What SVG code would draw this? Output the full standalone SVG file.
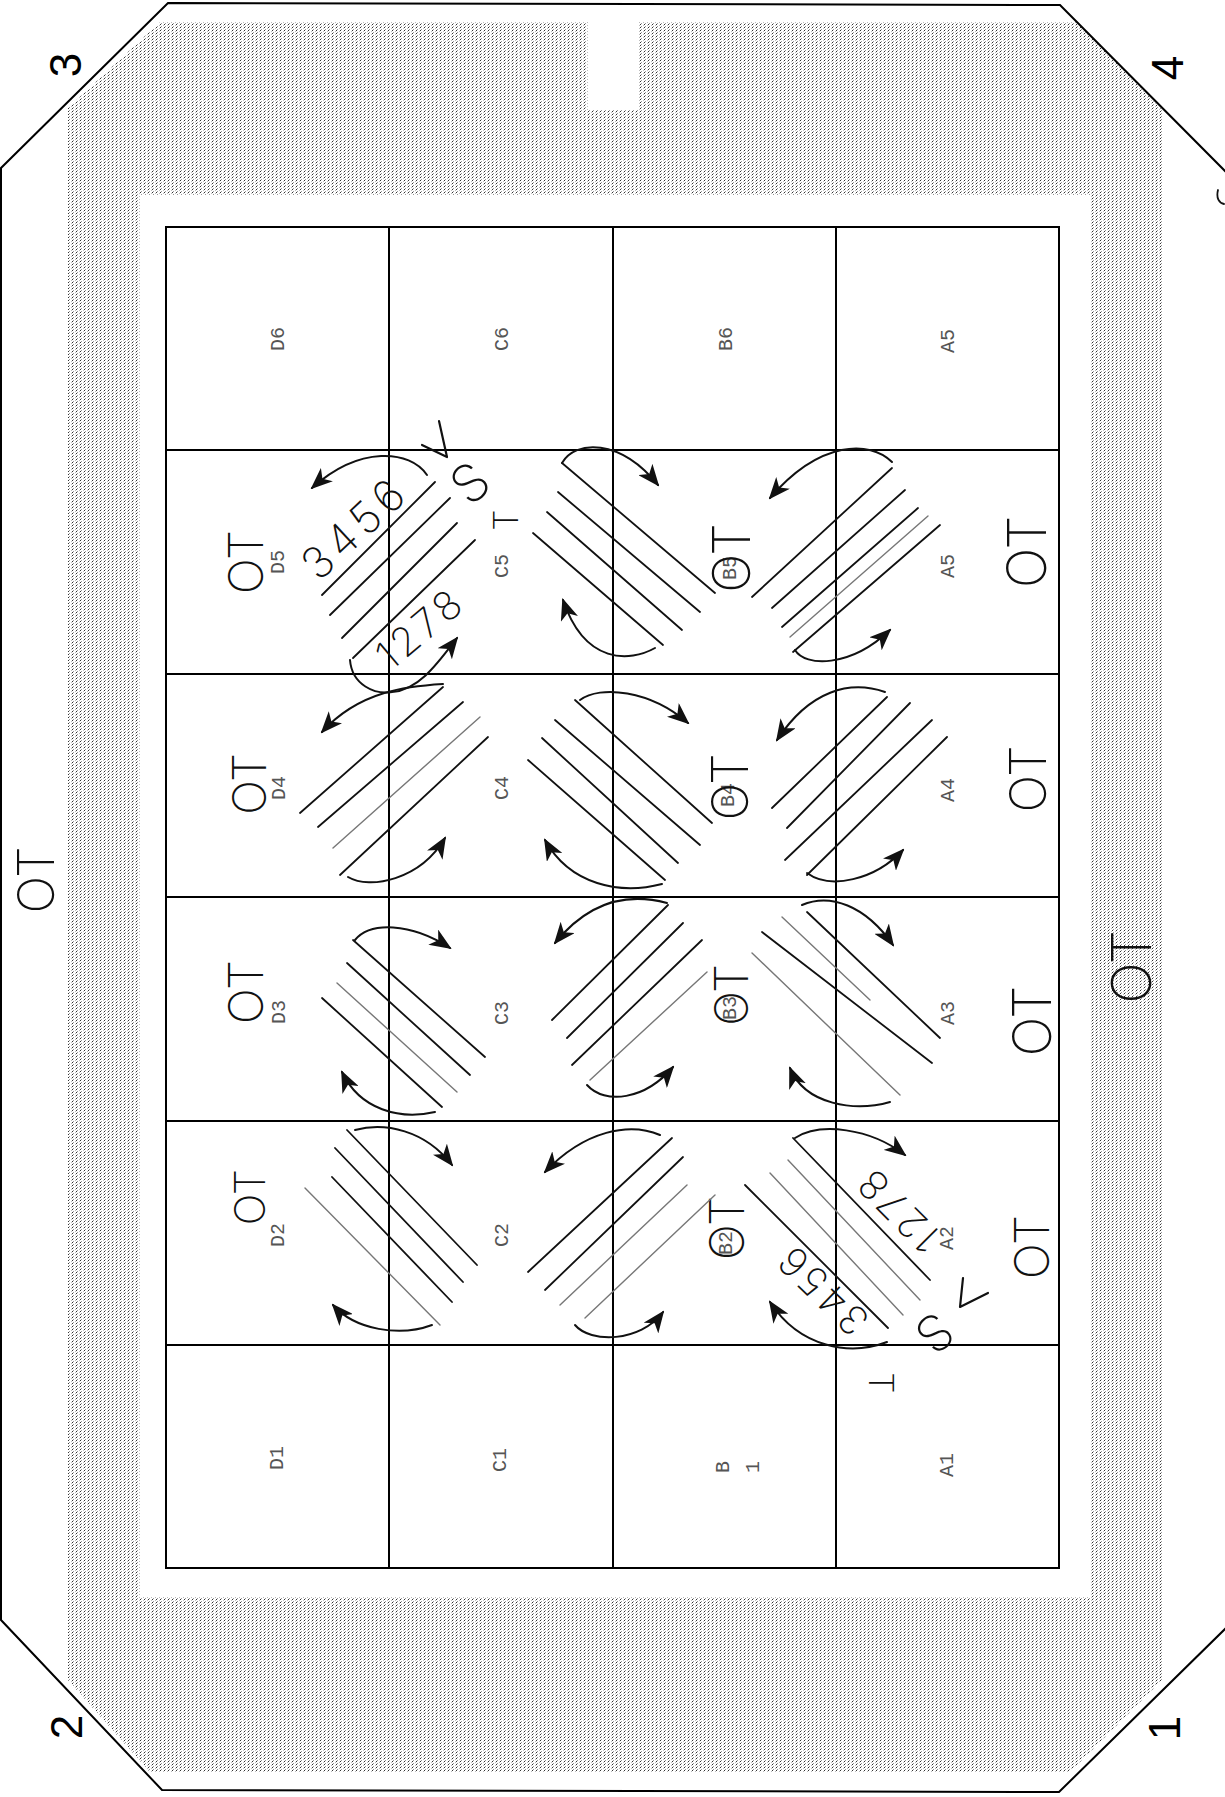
<svg xmlns="http://www.w3.org/2000/svg" width="1225" height="1797" viewBox="0 0 1225 1797">
<style>
.edge{fill:none;stroke:#000;stroke-width:2}
.cell{fill:none;stroke:#000;stroke-width:2}
.lbl{font-family:"Liberation Mono","DejaVu Sans Mono",monospace;font-size:20px;fill:#555}
.num{font-family:"Liberation Sans",Arial,sans-serif;font-size:44px;fill:#000}
.hand{font-family:Inter,Lato,"Open Sans",sans-serif;font-weight:200;fill:#111}
.h{fill:none;stroke:#111;stroke-width:1.8;stroke-linecap:round}
.hg{fill:none;stroke:#777;stroke-width:1.4;stroke-linecap:round}
.arr{fill:none;stroke:#111;stroke-width:2;stroke-linecap:round;marker-end:url(#ah)}
.mk{fill:none;stroke:#111;stroke-width:2.2;stroke-linecap:round;stroke-linejoin:round}
</style>
<defs>
<pattern id="dots" width="4" height="3" patternUnits="userSpaceOnUse">
<rect width="4" height="3" fill="#fff"/>
<rect x="0" y="0" width="1" height="1" fill="#333"/>
<rect x="1" y="2" width="1" height="1" fill="#999"/>
<rect x="3" y="1" width="1" height="1" fill="#bbb"/>
</pattern>
<marker id="ah" markerUnits="userSpaceOnUse" markerWidth="22" markerHeight="18" viewBox="0 0 22 18" refX="20" refY="9" orient="auto">
<path d="M0,0 L22,9 L0,18 L6,9 z" fill="#111"/>
</marker>
</defs>
<rect width="1225" height="1797" fill="#fff"/>

<g id="frame">
<path d="M160,22 L1077,22 L1162,110 L1162,1680 L1070,1772 L150,1772 L68,1680 L68,108 Z" fill="url(#dots)"/>
<rect x="140" y="195" width="950" height="1402" fill="#fff"/>
<rect x="588" y="20" width="50" height="90" fill="#fff"/>
<polygon class="edge" points="168,3 1060,5 1226,172 1226,1628 1059,1792 162,1790 1,1620 1,168"/>
<path d="M1218,190 C1216,198 1219,203 1224,204" class="h" stroke-width="1.2"/>
<text class="num" transform="translate(65,65) rotate(-90)" text-anchor="middle" dominant-baseline="central">3</text>
<text class="num" transform="translate(1167,68) rotate(-90)" text-anchor="middle" dominant-baseline="central">4</text>
<text class="num" transform="translate(66,1727) rotate(-90)" text-anchor="middle" dominant-baseline="central">2</text>
<text class="num" transform="translate(1164,1728) rotate(-90)" text-anchor="middle" dominant-baseline="central">1</text>
<text class="hand" font-size="50" transform="translate(36,880) rotate(-90)" text-anchor="middle" dominant-baseline="central">OT</text>
<text class="hand" font-size="55" transform="translate(1131,967) rotate(-90)" text-anchor="middle" dominant-baseline="central">OT</text>
</g>

<g id="grid">
<g id="cell-D6"><rect class="cell" x="166" y="227" width="223" height="223"/><text class="lbl" transform="translate(278,339) rotate(-90)" text-anchor="middle" dominant-baseline="central">D6</text></g>
<g id="cell-C6"><rect class="cell" x="389" y="227" width="224" height="223"/><text class="lbl" transform="translate(502,339) rotate(-90)" text-anchor="middle" dominant-baseline="central">C6</text></g>
<g id="cell-B6"><rect class="cell" x="613" y="227" width="223" height="223"/><text class="lbl" transform="translate(726,339) rotate(-90)" text-anchor="middle" dominant-baseline="central">B6</text></g>
<g id="cell-A6"><rect class="cell" x="836" y="227" width="223" height="223"/><text class="lbl" transform="translate(948,341) rotate(-90)" text-anchor="middle" dominant-baseline="central">A5</text></g>

<g id="cell-D5"><rect class="cell" x="166" y="450" width="223" height="224"/><text class="lbl" transform="translate(278,562) rotate(-90)" text-anchor="middle" dominant-baseline="central">D5</text></g>
<g id="cell-C5"><rect class="cell" x="389" y="450" width="224" height="224"/><text class="lbl" transform="translate(502,566) rotate(-90)" text-anchor="middle" dominant-baseline="central">C5</text></g>
<g id="cell-B5"><rect class="cell" x="613" y="450" width="223" height="224"/><text class="lbl" transform="translate(730,568) rotate(-90)" text-anchor="middle" dominant-baseline="central">B5</text></g>
<g id="cell-A5"><rect class="cell" x="836" y="450" width="223" height="224"/><text class="lbl" transform="translate(948,566) rotate(-90)" text-anchor="middle" dominant-baseline="central">A5</text></g>

<g id="cell-D4"><rect class="cell" x="166" y="674" width="223" height="223"/><text class="lbl" transform="translate(279,788) rotate(-90)" text-anchor="middle" dominant-baseline="central">D4</text></g>
<g id="cell-C4"><rect class="cell" x="389" y="674" width="224" height="223"/><text class="lbl" transform="translate(502,788) rotate(-90)" text-anchor="middle" dominant-baseline="central">C4</text></g>
<g id="cell-B4"><rect class="cell" x="613" y="674" width="223" height="223"/><text class="lbl" transform="translate(728,795) rotate(-90)" text-anchor="middle" dominant-baseline="central">B4</text></g>
<g id="cell-A4"><rect class="cell" x="836" y="674" width="223" height="223"/><text class="lbl" transform="translate(948,790) rotate(-90)" text-anchor="middle" dominant-baseline="central">A4</text></g>

<g id="cell-D3"><rect class="cell" x="166" y="897" width="223" height="224"/><text class="lbl" transform="translate(279,1012) rotate(-90)" text-anchor="middle" dominant-baseline="central">D3</text></g>
<g id="cell-C3"><rect class="cell" x="389" y="897" width="224" height="224"/><text class="lbl" transform="translate(502,1013) rotate(-90)" text-anchor="middle" dominant-baseline="central">C3</text></g>
<g id="cell-B3"><rect class="cell" x="613" y="897" width="223" height="224"/><text class="lbl" transform="translate(730,1008) rotate(-90)" text-anchor="middle" dominant-baseline="central">B3</text></g>
<g id="cell-A3"><rect class="cell" x="836" y="897" width="223" height="224"/><text class="lbl" transform="translate(948,1013) rotate(-90)" text-anchor="middle" dominant-baseline="central">A3</text></g>

<g id="cell-D2"><rect class="cell" x="166" y="1121" width="223" height="224"/><text class="lbl" transform="translate(278,1235) rotate(-90)" text-anchor="middle" dominant-baseline="central">D2</text></g>
<g id="cell-C2"><rect class="cell" x="389" y="1121" width="224" height="224"/><text class="lbl" transform="translate(502,1235) rotate(-90)" text-anchor="middle" dominant-baseline="central">C2</text></g>
<g id="cell-B2"><rect class="cell" x="613" y="1121" width="223" height="224"/><text class="lbl" transform="translate(726,1243) rotate(-90)" text-anchor="middle" dominant-baseline="central">B2</text></g>
<g id="cell-A2"><rect class="cell" x="836" y="1121" width="223" height="224"/><text class="lbl" transform="translate(947,1238) rotate(-90)" text-anchor="middle" dominant-baseline="central">A2</text></g>

<g id="cell-D1"><rect class="cell" x="166" y="1345" width="223" height="223"/><text class="lbl" transform="translate(277,1458) rotate(-90)" text-anchor="middle" dominant-baseline="central">D1</text></g>
<g id="cell-C1"><rect class="cell" x="389" y="1345" width="224" height="223"/><text class="lbl" transform="translate(500,1460) rotate(-90)" text-anchor="middle" dominant-baseline="central">C1</text></g>
<g id="cell-B1"><rect class="cell" x="613" y="1345" width="223" height="223"/><text class="lbl" transform="translate(723,1467) rotate(-90)" text-anchor="middle" dominant-baseline="central">B</text><text class="lbl" transform="translate(753,1467) rotate(-90)" text-anchor="middle" dominant-baseline="central">1</text></g>
<g id="cell-A1"><rect class="cell" x="836" y="1345" width="223" height="223"/><text class="lbl" transform="translate(947,1465) rotate(-90)" text-anchor="middle" dominant-baseline="central">A1</text></g>
</g>

<g id="ot-labels">
<text class="hand" font-size="48" transform="translate(245,562) rotate(-90)" text-anchor="middle" dominant-baseline="central">OT</text>
<text class="hand" font-size="46" transform="translate(249,784) rotate(-90)" text-anchor="middle" dominant-baseline="central">OT</text>
<text class="hand" font-size="48" transform="translate(245,992) rotate(-90)" text-anchor="middle" dominant-baseline="central">OT</text>
<text class="hand" font-size="42" transform="translate(249,1197) rotate(-90)" text-anchor="middle" dominant-baseline="central">OT</text>
<text class="hand" font-size="52" transform="translate(731,558) rotate(-90)" text-anchor="middle" dominant-baseline="central">OT</text>
<text class="hand" font-size="50" transform="translate(730,787) rotate(-90)" text-anchor="middle" dominant-baseline="central">OT</text>
<text class="hand" font-size="46" transform="translate(731,995) rotate(-90)" text-anchor="middle" dominant-baseline="central">OT</text>
<text class="hand" font-size="48" transform="translate(726,1228) rotate(-90)" text-anchor="middle" dominant-baseline="central">OT</text>
<text class="hand" font-size="54" transform="translate(1026,552) rotate(-90)" text-anchor="middle" dominant-baseline="central">OT</text>
<text class="hand" font-size="50" transform="translate(1028,779) rotate(-90)" text-anchor="middle" dominant-baseline="central">OT</text>
<text class="hand" font-size="53" transform="translate(1032,1021) rotate(-90)" text-anchor="middle" dominant-baseline="central">OT</text>
<text class="hand" font-size="48" transform="translate(1031,1247) rotate(-90)" text-anchor="middle" dominant-baseline="central">OT</text>
</g>

<g id="hatching">
<g id="hatch-D5-C5">
<line class="h" x1="435" y1="482" x2="322" y2="595"/><line class="h" x1="450" y1="498" x2="330" y2="615"/><line class="h" x1="457" y1="523" x2="342" y2="638"/><line class="h" x1="475" y1="540" x2="353" y2="658"/>
<text class="hand" font-size="44" letter-spacing="6" transform="translate(355,527) rotate(-43)" text-anchor="middle" dominant-baseline="central">3456</text>
<text class="hand" font-size="40" letter-spacing="4" transform="translate(420,628) rotate(-40)" text-anchor="middle" dominant-baseline="central">1278</text>
<path class="mk" d="M422,445 L447,457 L439,421"/>
<text class="hand" font-size="52" transform="translate(470,483) rotate(-40)" text-anchor="middle" dominant-baseline="central">S</text>
<text class="hand" font-size="34" transform="translate(505,520) rotate(-90)" text-anchor="middle" dominant-baseline="central">T</text>
</g>
<g id="hatch-C5-B5">
<line class="h" x1="562" y1="463" x2="715" y2="593"/><line class="h" x1="558" y1="492" x2="700" y2="612"/><line class="h" x1="547" y1="512" x2="682" y2="630"/><line class="h" x1="533" y1="533" x2="663" y2="645"/>
</g>
<g id="hatch-B5-A5">
<line class="h" x1="892" y1="468" x2="752" y2="597"/><line class="h" x1="905" y1="490" x2="772" y2="608"/><line class="h" x1="918" y1="508" x2="782" y2="627"/><line class="hg" x1="928" y1="516" x2="790" y2="637"/><line class="h" x1="940" y1="525" x2="793" y2="652"/>
</g>
<g id="hatch-D4-C4">
<line class="h" x1="443" y1="687" x2="300" y2="813"/><line class="h" x1="463" y1="702" x2="318" y2="827"/><line class="hg" x1="480" y1="717" x2="333" y2="848"/><line class="h" x1="488" y1="737" x2="340" y2="875"/>
</g>
<g id="hatch-C4-B4">
<line class="h" x1="575" y1="700" x2="712" y2="823"/><line class="h" x1="555" y1="720" x2="700" y2="845"/><line class="h" x1="542" y1="738" x2="678" y2="863"/><line class="h" x1="528" y1="760" x2="665" y2="880"/>
</g>
<g id="hatch-B4-A4">
<line class="h" x1="887" y1="697" x2="772" y2="808"/><line class="h" x1="910" y1="703" x2="787" y2="828"/><line class="h" x1="932" y1="720" x2="785" y2="860"/><line class="h" x1="947" y1="737" x2="807" y2="875"/>
</g>
<g id="hatch-D3-C3">
<line class="h" x1="353" y1="940" x2="485" y2="1057"/><line class="h" x1="347" y1="963" x2="470" y2="1075"/><line class="hg" x1="337" y1="983" x2="457" y2="1092"/><line class="h" x1="322" y1="998" x2="442" y2="1107"/>
</g>
<g id="hatch-C3-B3">
<line class="h" x1="668" y1="905" x2="552" y2="1020"/><line class="h" x1="683" y1="923" x2="567" y2="1038"/><line class="h" x1="702" y1="940" x2="572" y2="1065"/><line class="hg" x1="707" y1="972" x2="590" y2="1080"/>
</g>
<g id="hatch-B3-A3">
<line class="h" x1="807" y1="912" x2="940" y2="1038"/><line class="hg" x1="782" y1="917" x2="870" y2="1000"/><line class="h" x1="762" y1="932" x2="932" y2="1063"/><line class="hg" x1="752" y1="953" x2="900" y2="1095"/>
</g>
<g id="hatch-D2-C2">
<line class="h" x1="347" y1="1130" x2="477" y2="1265"/><line class="h" x1="335" y1="1148" x2="463" y2="1282"/><line class="h" x1="332" y1="1177" x2="452" y2="1302"/><line class="hg" x1="305" y1="1188" x2="440" y2="1325"/>
</g>
<g id="hatch-C2-B2">
<line class="h" x1="672" y1="1138" x2="528" y2="1272"/><line class="h" x1="683" y1="1157" x2="545" y2="1290"/><line class="hg" x1="687" y1="1185" x2="560" y2="1305"/><line class="hg" x1="715" y1="1195" x2="585" y2="1318"/>
</g>
<g id="hatch-B2-A2">
<line class="h" x1="793" y1="1138" x2="930" y2="1280"/><line class="hg" x1="788" y1="1160" x2="920" y2="1300"/><line class="hg" x1="770" y1="1173" x2="903" y2="1315"/><line class="h" x1="745" y1="1185" x2="888" y2="1328"/>
<text class="hand" font-size="40" letter-spacing="4" transform="translate(898,1210) rotate(-135)" text-anchor="middle" dominant-baseline="central">1278</text>
<text class="hand" font-size="40" letter-spacing="4" transform="translate(822,1290) rotate(-136)" text-anchor="middle" dominant-baseline="central">3456</text>
<text class="hand" font-size="50" transform="translate(935,1333) rotate(140)" text-anchor="middle" dominant-baseline="central">S</text>
<text class="hand" font-size="34" transform="translate(881,1383) rotate(90)" text-anchor="middle" dominant-baseline="central">T</text>
<path class="mk" d="M963,1278 L960,1307 L988,1293"/>
</g>
</g>

<g id="connectors">
<path class="arr" d="M427,475 C410,450 360,445 312,488"/>
<path class="arr" d="M350,660 C352,685 375,695 392,692 C420,690 440,660 457,638"/>
<path class="arr" d="M562,463 C575,440 620,438 658,485"/>
<path class="arr" d="M655,648 C630,662 585,665 563,600"/>
<path class="arr" d="M892,462 C870,440 820,440 770,498"/>
<path class="arr" d="M795,650 C805,667 850,668 890,630"/>
<path class="arr" d="M443,684 C410,686 360,690 322,732"/>
<path class="arr" d="M348,877 C370,890 420,880 445,838"/>
<path class="arr" d="M580,700 C600,685 650,690 688,723"/>
<path class="arr" d="M662,884 C620,895 570,885 545,840"/>
<path class="arr" d="M885,692 C850,680 810,690 777,740"/>
<path class="arr" d="M807,873 C830,890 875,880 903,850"/>
<path class="arr" d="M355,940 C370,922 410,922 450,948"/>
<path class="arr" d="M435,1112 C400,1120 360,1110 342,1072"/>
<path class="arr" d="M667,903 C630,893 590,900 555,943"/>
<path class="arr" d="M587,1085 C605,1105 645,1100 673,1067"/>
<path class="arr" d="M802,905 C830,893 865,905 893,945"/>
<path class="arr" d="M890,1102 C855,1112 805,1105 790,1068"/>
<path class="arr" d="M355,1130 C385,1122 425,1130 452,1165"/>
<path class="arr" d="M432,1325 C400,1337 355,1330 333,1305"/>
<path class="arr" d="M660,1135 C630,1122 585,1130 545,1172"/>
<path class="arr" d="M575,1325 C590,1343 640,1343 663,1312"/>
<path class="arr" d="M795,1138 C820,1122 870,1128 905,1155"/>
<path class="arr" d="M887,1342 C850,1356 800,1348 770,1302"/>
</g>
</svg>
